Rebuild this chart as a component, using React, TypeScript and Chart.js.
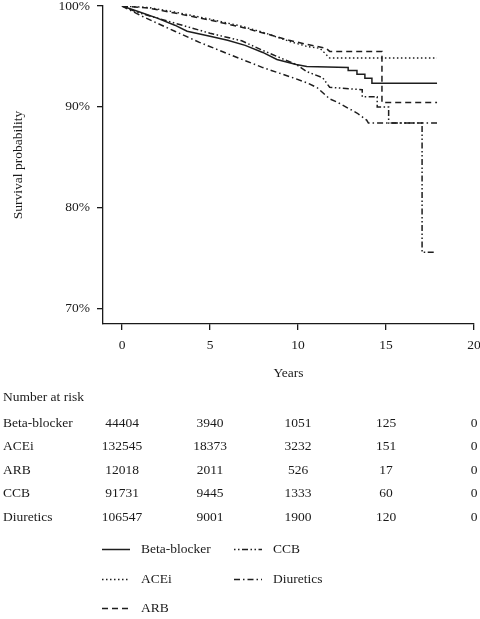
import React, { useEffect, useRef } from "react";
import { Chart, registerables } from "chart.js";

Chart.register(...registerables);

const FONT = "'Liberation Serif', 'Times New Roman', serif";

const seriesNames = ["Beta-blocker", "ACEi", "ARB", "CCB", "Diuretics"];

const betaTimes = [0, 1, 2, 3, 3.7, 5, 6, 7, 8, 8.8, 9.9, 10.5, 12.85, 12.85, 13.35, 13.35, 13.8, 13.8, 14.2, 14.2, 17.9];
const betaSurv = [100, 99.4, 98.8, 98.1, 97.5, 97.0, 96.6, 96.1, 95.4, 94.7, 94.2, 94.0, 93.9, 93.6, 93.6, 93.25, 93.25, 92.85, 92.85, 92.35, 92.35];

const aceiTimes = [0, 1.5, 3, 5, 6.8, 8, 9.5, 10.5, 11.25, 11.8, 17.9];
const aceiSurv = [100, 99.85, 99.4, 98.7, 98.0, 97.4, 96.5, 96.0, 95.8, 94.85, 94.85];

const arbTimes = [0, 1.5, 3, 5, 6.8, 8.5, 9.5, 10.5, 11.6, 11.8, 14.77, 14.77, 17.9];
const arbSurv = [100, 99.8, 99.3, 98.6, 97.9, 97.1, 96.6, 96.2, 95.8, 95.5, 95.5, 90.45, 90.45];

const ccbTimes = [0, 1, 3, 5, 6.8, 8, 9.9, 10.5, 11.4, 11.8, 13.65, 13.65, 14.5, 14.5, 15.15, 15.15, 17.05, 17.05, 17.85];
const ccbSurv = [100, 99.3, 98.3, 97.3, 96.55, 95.6, 94.2, 93.5, 92.9, 91.95, 91.7, 91.0, 91.0, 90.0, 90.0, 88.4, 88.4, 75.6, 75.6];

const diurTimes = [0, 1, 2, 3, 4.4, 6.25, 8, 9.7, 10.5, 11.1, 11.8, 12.2, 13.35, 13.9, 14.0, 17.9];
const diurSurv = [100, 99.1, 98.3, 97.5, 96.4, 95.1, 93.9, 92.9, 92.4, 91.9, 90.8, 90.5, 89.4, 88.7, 88.4, 88.4];

const xTicks = [0, 5, 10, 15, 20];
const yTicks = [70, 80, 90, 100];

const riskTimes = [0, 5, 10, 15, 20];
const riskBeta = [44404, 3940, 1051, 125, 0];
const riskAcei = [132545, 18373, 3232, 151, 0];
const riskArb = [12018, 2011, 526, 17, 0];
const riskCcb = [91731, 9445, 1333, 60, 0];
const riskDiur = [106547, 9001, 1900, 120, 0];

const dashes: number[][] = [[], [1.5, 2.5], [6, 4], [1.5, 2.5, 1.5, 2.5, 6, 2.5], [6, 3, 1.5, 3]];

const toPts = (t: number[], s: number[]) => t.map((x, i) => ({ x, y: s[i] }));

export default function App() {
  const ref = useRef<HTMLCanvasElement | null>(null);

  useEffect(() => {
    if (!ref.current) return;
    const seriesData = [
      toPts(betaTimes, betaSurv),
      toPts(aceiTimes, aceiSurv),
      toPts(arbTimes, arbSurv),
      toPts(ccbTimes, ccbSurv),
      toPts(diurTimes, diurSurv),
    ];
    const riskRows = [riskBeta, riskAcei, riskArb, riskCcb, riskDiur];

    const tablePlugin = {
      id: "riskTableLegend",
      afterDraw(chart: any) {
        const ctx = chart.ctx as CanvasRenderingContext2D;
        const xs = chart.scales.x;
        ctx.save();
        ctx.font = `13.5px ${FONT}`;
        ctx.fillStyle = "#1a1a1a";
        ctx.textBaseline = "middle";
        ctx.textAlign = "left";
        ctx.fillText("Number at risk", 3, 397);
        riskRows.forEach((vals, i) => {
          const y = 423 + i * 23.5;
          ctx.textAlign = "left";
          ctx.fillText(seriesNames[i], 3, y);
          ctx.textAlign = "center";
          vals.forEach((v, j) => {
            ctx.fillText(String(v), xs.getPixelForValue(riskTimes[j]), y);
          });
        });
        // legend, column-major with 3 rows
        const rowsY = [549, 579, 608];
        const cols = [{ lx: 102, tx: 141 }, { lx: 234, tx: 273 }];
        chart.data.datasets.forEach((ds: any, i: number) => {
          const col = cols[Math.floor(i / 3)];
          const y = rowsY[i % 3];
          ctx.save();
          ctx.strokeStyle = ds.borderColor;
          ctx.lineWidth = ds.borderWidth;
          ctx.setLineDash(ds.borderDash || []);
          ctx.beginPath();
          ctx.moveTo(col.lx, y + 0.5);
          ctx.lineTo(col.lx + 28, y + 0.5);
          ctx.stroke();
          ctx.restore();
          ctx.textAlign = "left";
          ctx.fillText(ds.label, col.tx, y);
        });
        ctx.restore();
      },
    };

    const chart = new Chart(ref.current, {
      type: "line",
      data: {
        datasets: seriesData.map((d, i) => ({
          label: seriesNames[i],
          data: d,
          borderColor: "#1e1e1e",
          borderWidth: i === 1 ? 1.4 : 1.5,
          borderDash: dashes[i],
          pointRadius: 0,
          tension: 0,
          fill: false,
        })),
      },
      options: {
        animation: false,
        responsive: false,
        devicePixelRatio: 1,
        layout: { padding: { left: 0, right: 6, top: 6, bottom: 235 } },
        plugins: { legend: { display: false }, title: { display: false }, tooltip: { enabled: false } },
        scales: {
          x: {
            type: "linear",
            min: -1.08,
            max: 20,
            afterBuildTicks: (s: any) => {
              s.ticks = xTicks.map((v) => ({ value: v }));
            },
            afterFit: (s: any) => {
              s.height = 60;
              s.paddingLeft = 0;
              s.paddingRight = 0;
            },
            grid: { display: true, drawOnChartArea: false, drawTicks: true, tickLength: 6, color: "#1a1a1a", lineWidth: 1.3 },
            border: { display: true, color: "#1a1a1a", width: 1.3 },
            ticks: { color: "#1a1a1a", padding: 7, font: { family: FONT, size: 13.5 }, maxRotation: 0, autoSkip: false },
            title: { display: true, text: "Years", color: "#1a1a1a", font: { family: FONT, size: 13.5 }, padding: { top: 0, bottom: 2 } },
          },
          y: {
            type: "linear",
            min: 68.5,
            max: 100,
            afterBuildTicks: (s: any) => {
              s.ticks = yTicks.map((v) => ({ value: v }));
            },
            afterFit: (s: any) => {
              s.width = 103;
              s.paddingTop = 0;
              s.paddingBottom = 0;
            },
            grid: { display: true, drawOnChartArea: false, drawTicks: true, tickLength: 6, color: "#1a1a1a", lineWidth: 1.3 },
            border: { display: true, color: "#1a1a1a", width: 1.3 },
            ticks: { color: "#1a1a1a", padding: 7, font: { family: FONT, size: 13.5 }, callback: (v: any) => `${v}%` },
            title: { display: true, text: "Survival probability", color: "#1a1a1a", font: { family: FONT, size: 13.5 }, padding: { top: 10, bottom: 0 } },
          },
        },
      },
      plugins: [tablePlugin],
    });
    return () => chart.destroy();
  }, []);

  return (
    <div style={{ position: "absolute", left: 0, top: 0, width: 480, height: 619, background: "#fff" }}>
      <canvas ref={ref} width={480} height={619} style={{ display: "block" }} />
    </div>
  );
}
